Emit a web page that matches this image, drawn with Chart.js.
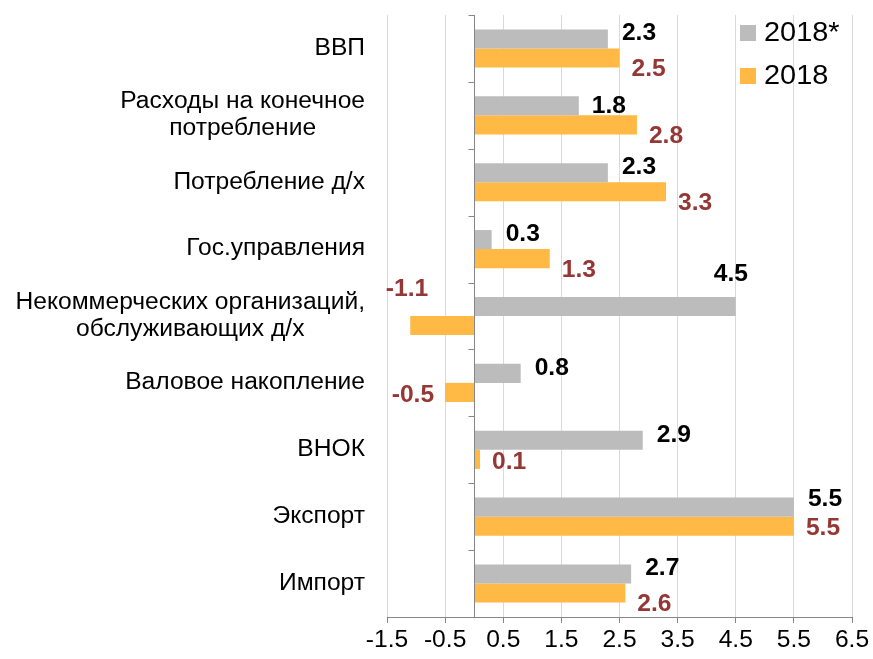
<!DOCTYPE html>
<html>
<head>
<meta charset="utf-8">
<script src="https://cdn.jsdelivr.net/npm/chart.js@4.4.1/dist/chart.umd.min.js"></script>
<style>
  html, body { margin: 0; padding: 0; background: #fff; }
  #wrap { width: 873px; height: 659px; }
</style>
</head>
<body>
<div id="wrap"><canvas id="chart" width="873" height="659"></canvas></div>
<script>
"use strict";

// categories (top to bottom)
const categories = [
    'ВВП',
    ['Расходы на конечное', 'потребление'],
    'Потребление д/х',
    'Гос.управления',
    ['Некоммерческих организаций,', 'обслуживающих д/х'],
    'Валовое накопление',
    'ВНОК',
    'Экспорт',
    'Импорт'
];

const series2018star = [2.3, 1.8, 2.3, 0.3, 4.5, 0.8, 2.9, 5.5, 2.7];
const series2018 = [2.5, 2.8, 3.3, 1.3, -1.1, -0.5, 0.1, 5.5, 2.6];

const xTicks = [-1.5, -0.5, 0.5, 1.5, 2.5, 3.5, 4.5, 5.5, 6.5];

const FONT = '"Liberation Sans", Arial, sans-serif';
const SX = 1.07; // text in the picture is a bit wider than tall

// label placement tweaks, per dataset: default + per-index overrides
const labelPos = [
    { dx: 14, dy: -5, color: '#000000', over: { 1: { dx: 13, dy: 1 }, 4: { dx: -22, dy: -32 }, 7: { dy: -7 } } },
    { dx: 12, dy: 12, color: '#953735', over: { 4: { dx: -18, dy: -36 }, 5: { dx: 11, dy: 3 }, 6: { dy: 3 }, 7: { dy: 2 } } }
];

function drawText(ctx, text, x, y, align) {
    ctx.save();
    ctx.translate(x, y);
    ctx.scale(SX, 1);
    ctx.textAlign = align;
    ctx.textBaseline = 'middle';
    ctx.fillText(text, 0, 0);
    ctx.restore();
}

const customDraw = {
    id: 'customDraw',
    afterDatasetsDraw(chart) {
        const ctx = chart.ctx;
        const xs = chart.scales.x;
        const ys = chart.scales.y;
        const area = chart.chartArea;
        const x0 = Math.round(xs.getPixelForValue(0)) + 0.5;

        // vertical axis at zero, with category tick marks
        ctx.save();
        ctx.strokeStyle = '#868686';
        ctx.lineWidth = 1;
        ctx.beginPath();
        ctx.moveTo(x0, area.top);
        ctx.lineTo(x0, area.bottom);
        const band = (area.bottom - area.top) / categories.length;
        for (let i = 0; i <= categories.length; i++) {
            const y = Math.round(area.top + i * band) + 0.5;
            ctx.moveTo(x0 - 6, y);
            ctx.lineTo(x0, y);
        }
        ctx.stroke();

        // category labels, block right aligned, lines centered
        ctx.fillStyle = '#000';
        ctx.font = '23px ' + FONT;
        const lh = 27;
        const right = 365;
        for (let i = 0; i < categories.length; i++) {
            const lines = Array.isArray(categories[i]) ? categories[i] : [categories[i]];
            let w = 0;
            lines.forEach(function (l) { w = Math.max(w, ctx.measureText(l).width * SX); });
            const cx = right - w / 2;
            const cy = ys.getPixelForValue(i);
            for (let j = 0; j < lines.length; j++) {
                const y = cy + (j - (lines.length - 1) / 2) * lh;
                drawText(ctx, lines[j], cx, y, 'center');
            }
        }

        // x tick labels
        ctx.font = '23px ' + FONT;
        xTicks.forEach(function (t) {
            drawText(ctx, String(t), xs.getPixelForValue(t), area.bottom + 24, 'center');
        });

        // value labels
        ctx.font = 'bold 23px ' + FONT;
        chart.data.datasets.forEach(function (ds, di) {
            const meta = chart.getDatasetMeta(di);
            const lp = labelPos[di];
            meta.data.forEach(function (bar, i) {
                const v = ds.data[i];
                const o = lp.over[i] || {};
                const dx = o.dx !== undefined ? o.dx : lp.dx;
                const dy = o.dy !== undefined ? o.dy : lp.dy;
                ctx.fillStyle = lp.color;
                if (v >= 0) {
                    drawText(ctx, v.toFixed(1), bar.x + dx, bar.y + dy, 'left');
                } else {
                    drawText(ctx, v.toFixed(1), bar.x - dx, bar.y + dy, 'right');
                }
            });
        });

        // legend in the top right corner
        ctx.font = '27px ' + FONT;
        chart.data.datasets.forEach(function (ds, di) {
            const y = 33 + di * 43;
            ctx.fillStyle = ds.backgroundColor;
            ctx.fillRect(740, y - 8, 16, 16);
            ctx.fillStyle = '#000';
            drawText(ctx, ds.label, 764, y + 1, 'left');
        });
        ctx.restore();
    }
};

function main() {
    const ctx = document.getElementById('chart').getContext('2d');
    new Chart(ctx, {
        type: 'bar',
        data: {
            labels: categories,
            datasets: [
                { label: '2018*', data: series2018star, backgroundColor: '#BCBCBC' },
                { label: '2018', data: series2018, backgroundColor: '#FFB944' }
            ]
        },
        options: {
            indexAxis: 'y',
            responsive: false,
            animation: false,
            events: [],
            categoryPercentage: 0.57,
            barPercentage: 1.0,
            layout: { padding: { left: 387, right: 21, top: 15, bottom: 36 } },
            plugins: {
                legend: { display: false },
                tooltip: { enabled: false }
            },
            scales: {
                x: {
                    min: -1.5,
                    max: 6.5,
                    afterBuildTicks: function (scale) {
                        scale.ticks = xTicks.map(function (v) { return { value: v }; });
                    },
                    ticks: { display: false },
                    grid: { color: '#D9D9D9', tickColor: '#868686', tickLength: 6 },
                    border: { color: '#868686' }
                },
                y: { display: false }
            }
        },
        plugins: [customDraw]
    });
}

document.addEventListener('DOMContentLoaded', main);
</script>
</body>
</html>
